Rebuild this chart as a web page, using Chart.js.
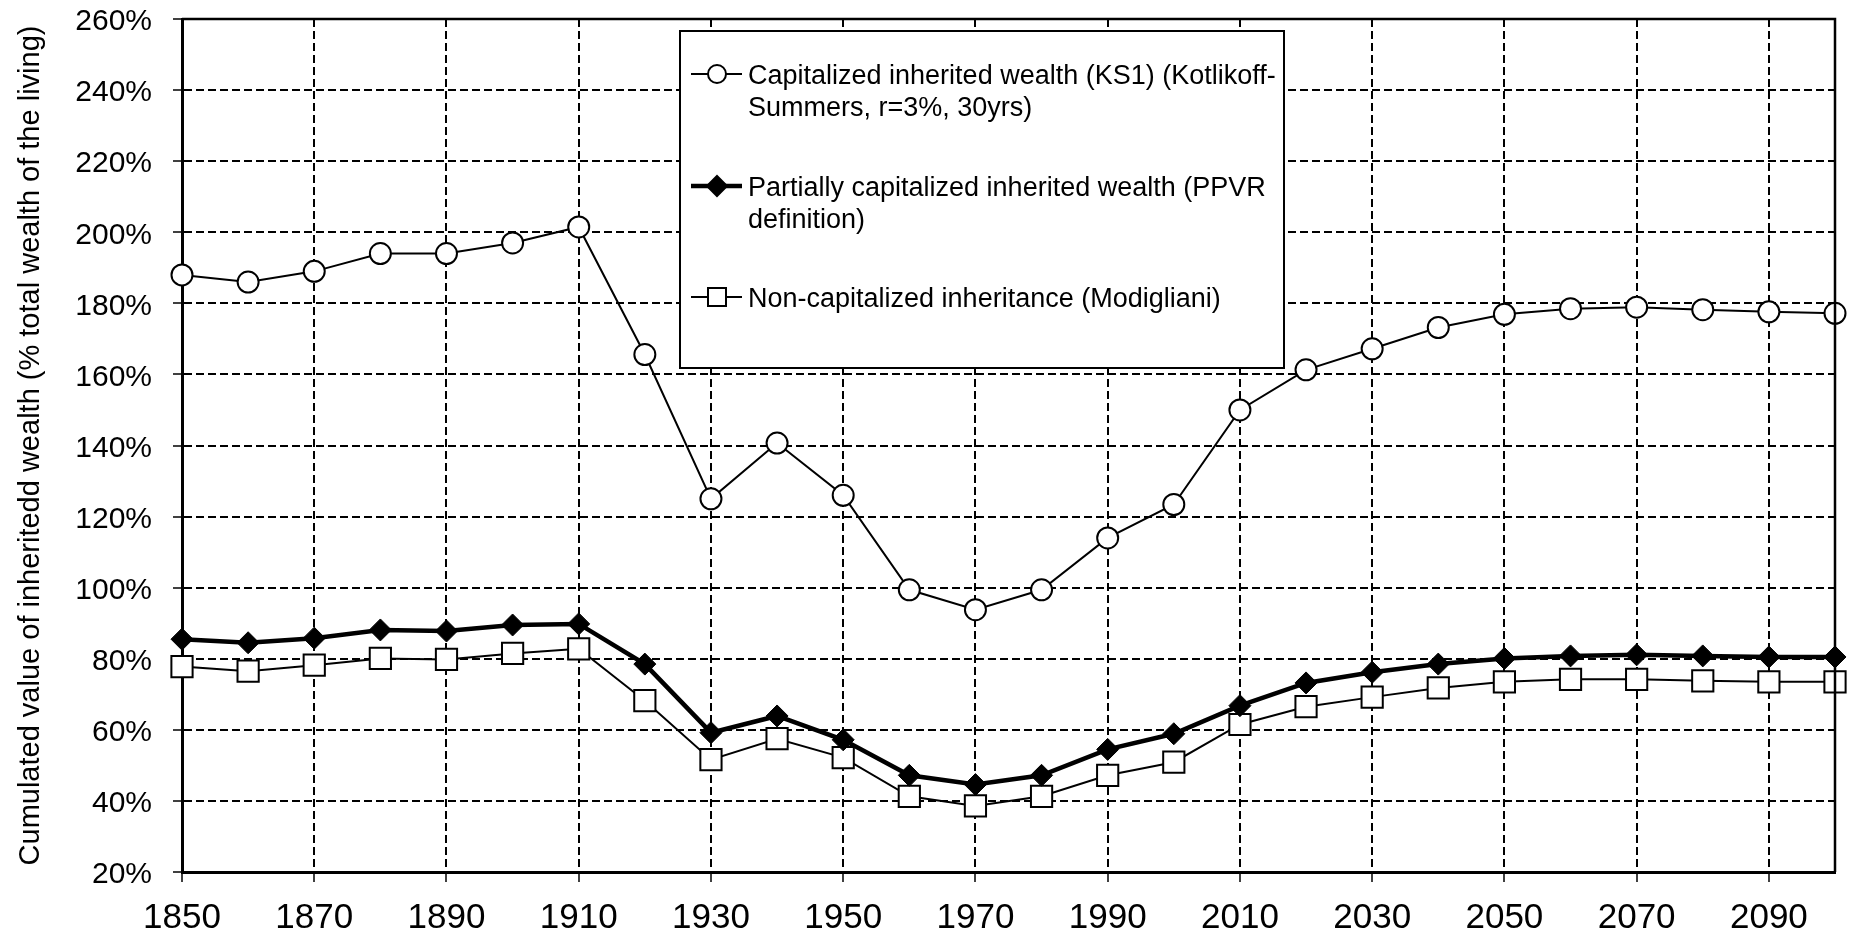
<!DOCTYPE html>
<html>
<head>
<meta charset="utf-8">
<script src="https://cdn.jsdelivr.net/npm/chart.js@4"></script>
<style>
  body { margin: 0; background: #fff; }
  canvas { display: block; }
</style>
</head>
<body>
<canvas id="wealth" width="1852" height="938"></canvas>
<script>
const years = ["1850", "1860", "1870", "1880", "1890", "1900", "1910", "1920", "1930", "1940",
  "1950", "1960", "1970", "1980", "1990", "2000", "2010", "2020", "2030", "2040",
  "2050", "2060", "2070", "2080", "2090", "2100"];

const ks1 = [188, 186, 189, 194, 194, 197, 201.5, 165.6, 125, 140.7,
  126, 99.4, 93.8, 99.4, 114, 123.4, 150, 161.3, 167.2, 173.2,
  176.9, 178.5, 178.9, 178.2, 177.6, 177.2];

const ppvr = [85.5, 84.5, 85.8, 88.1, 87.8, 89.5, 89.8, 78.5, 59.2, 63.9,
  57.2, 47.2, 44.6, 47.2, 54.5, 58.9, 66.8, 73.2, 76.2, 78.5,
  80.1, 80.8, 81.1, 80.8, 80.5, 80.5];

const modigliani = [77.8, 76.5, 78.2, 80.1, 79.8, 81.5, 82.8, 68.2, 51.6, 57.5,
  52.2, 41.3, 38.6, 41.3, 47.2, 50.9, 61.5, 66.5, 69.2, 71.8,
  73.5, 74.2, 74.2, 73.8, 73.5, 73.5];

const yTicks = [20, 40, 60, 80, 100, 120, 140, 160, 180, 200, 220, 240, 260];

const seriesNames = [
  "Capitalized inherited wealth (KS1) (Kotlikoff-Summers, r=3%, 30yrs)",
  "Partially capitalized inherited wealth (PPVR definition)",
  "Non-capitalized inheritance (Modigliani)"
];
// how the legend wraps each name
const legendLines = [
  ["Capitalized inherited wealth (KS1) (Kotlikoff-", "Summers, r=3%, 30yrs)"],
  ["Partially capitalized inherited wealth (PPVR", "definition)"],
  ["Non-capitalized inheritance (Modigliani)"]
];

const yTitle = "Cumulated value of inheritedd wealth (% total wealth of the living)";

// frame round the plot + boxed legend inside it
const framePlugin = {
  id: "frame",
  afterDraw(chart) {
    const { ctx, chartArea: a } = chart;
    ctx.save();
    ctx.strokeStyle = "#000";
    ctx.lineWidth = 2.5;
    ctx.beginPath();
    ctx.moveTo(a.left, a.top);
    ctx.lineTo(a.right, a.top);
    ctx.lineTo(a.right, a.bottom);
    ctx.stroke();

    // legend box
    const bx = 680, by = 31, bw = 604, bh = 337;
    ctx.fillStyle = "#fff";
    ctx.fillRect(bx, by, bw, bh);
    ctx.lineWidth = 2;
    ctx.strokeRect(bx, by, bw, bh);

    const rowY = [84, 196, 307];
    ctx.font = "27px 'Liberation Sans', Arial, sans-serif";
    ctx.textBaseline = "alphabetic";
    ctx.textAlign = "left";
    chart.data.datasets.forEach((ds, i) => {
      const cy = rowY[i] - 10;
      ctx.strokeStyle = "#000";
      ctx.lineWidth = ds.borderWidth;
      ctx.beginPath();
      ctx.moveTo(691, cy);
      ctx.lineTo(742, cy);
      ctx.stroke();
      ctx.lineWidth = 2;
      ctx.fillStyle = ds.pointBackgroundColor;
      ctx.beginPath();
      if (ds.pointStyle === "circle") {
        ctx.arc(717, cy, 9, 0, Math.PI * 2);
      } else if (ds.pointStyle === "rectRot") {
        ctx.moveTo(717, cy - 10);
        ctx.lineTo(727, cy);
        ctx.lineTo(717, cy + 10);
        ctx.lineTo(707, cy);
        ctx.closePath();
      } else {
        ctx.rect(708, cy - 9, 18, 18);
      }
      ctx.fill();
      ctx.stroke();
      ctx.fillStyle = "#000";
      legendLines[i].forEach((line, j) => {
        ctx.fillText(line, 748, rowY[i] + j * 32);
      });
    });
    ctx.restore();
  }
};

const ctx = document.getElementById("wealth");

new Chart(ctx, {
  type: "line",
  data: {
    labels: years,
    datasets: [
      {
        label: seriesNames[0],
        data: ks1,
        borderColor: "#000",
        borderWidth: 2,
        pointStyle: "circle",
        pointRadius: 10.5,
        pointBorderWidth: 2,
        pointBackgroundColor: "#fff",
        pointBorderColor: "#000",
        tension: 0,
        clip: false,
      },
      {
        label: seriesNames[1],
        data: ppvr,
        borderColor: "#000",
        borderWidth: 4.5,
        pointStyle: "rectRot",
        pointRadius: 11,
        pointBorderWidth: 1,
        pointBackgroundColor: "#000",
        pointBorderColor: "#000",
        tension: 0,
        clip: false,
      },
      {
        label: seriesNames[2],
        data: modigliani,
        borderColor: "#000",
        borderWidth: 2,
        pointStyle: "rect",
        pointRadius: 15,
        pointBorderWidth: 2,
        pointBackgroundColor: "#fff",
        pointBorderColor: "#000",
        tension: 0,
        clip: false,
      },
    ],
  },
  options: {
    responsive: false,
    animation: false,
    layout: { padding: { top: 19, right: 7, left: 0, bottom: 0 } },
    plugins: {
      legend: { display: false },
      tooltip: { enabled: false },
    },
    scales: {
      x: {
        type: "category",
        grid: {
          color: (c) => (c.index % 2 === 0 ? "#000" : "rgba(0,0,0,0)"),
          tickColor: (c) => (c.index % 2 === 0 ? "#000" : "rgba(0,0,0,0)"),
          lineWidth: 2,
          tickWidth: 1.5,
          tickLength: 10,
        },
        border: { display: true, color: "#000", width: 3, dash: [8, 4] },
        ticks: {
          autoSkip: false,
          maxRotation: 0,
          padding: 15,
          color: "#000",
          font: { family: "'Liberation Sans', Arial, sans-serif", size: 35 },
          callback: function (val, i) {
            return i % 2 === 0 ? this.getLabelForValue(val) : "";
          },
        },
        afterFit(scale) {
          scale.height = 66;
          scale.paddingLeft = 0;
          scale.paddingRight = 0;
        },
      },
      y: {
        min: yTicks[0],
        max: yTicks[yTicks.length - 1],
        afterBuildTicks(scale) {
          scale.ticks = yTicks.map((v) => ({ value: v }));
        },
        grid: {
          color: "#000",
          lineWidth: 2,
          tickWidth: 1.5,
          tickLength: 9,
        },
        border: { display: true, color: "#000", width: 3, dash: [8, 4] },
        ticks: {
          padding: 21,
          labelOffset: 3,
          color: "#000",
          font: { family: "'Liberation Sans', Arial, sans-serif", size: 30 },
          callback: (v) => v + "%",
        },
        title: {
          display: true,
          text: yTitle,
          color: "#000",
          padding: { top: 14, bottom: 0 },
          font: { family: "'Liberation Sans', Arial, sans-serif", size: 29 },
        },
        afterFit(scale) {
          scale.width = 182;
          scale.paddingTop = 0;
          scale.paddingBottom = 0;
        },
      },
    },
  },
  plugins: [framePlugin],
});
</script>
</body>
</html>
